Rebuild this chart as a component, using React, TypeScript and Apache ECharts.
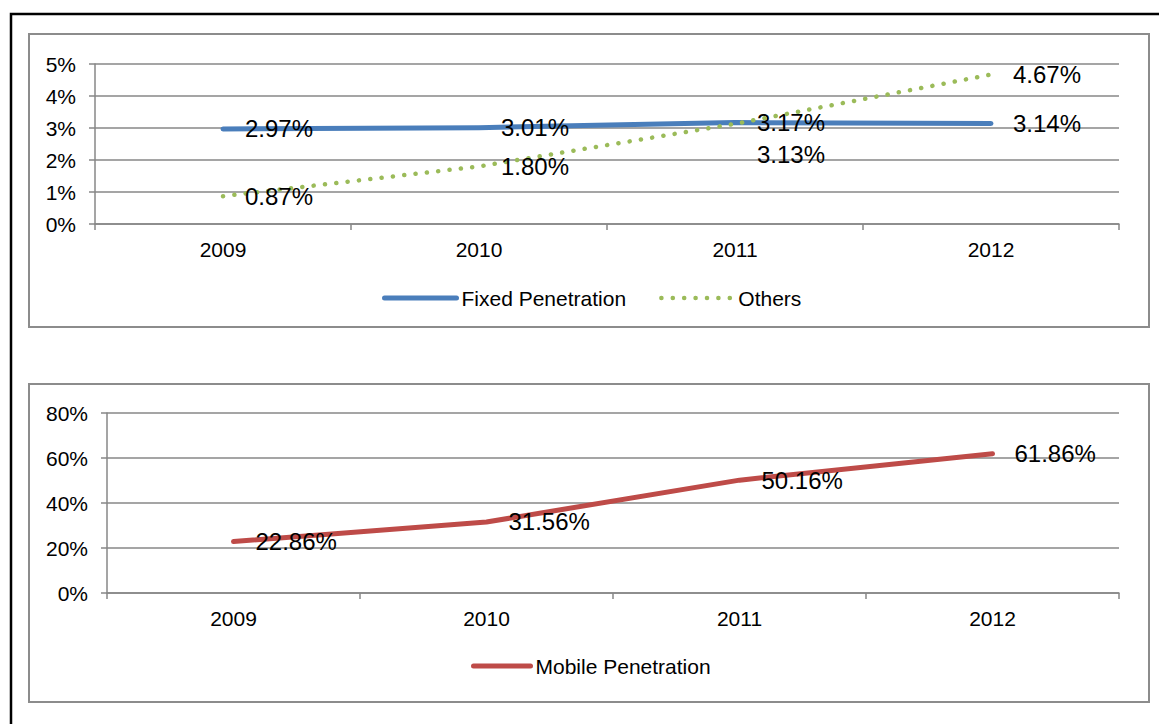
import React, { useEffect, useRef } from "react";
import * as echarts from "echarts";

const years = ["2009", "2010", "2011", "2012"];
const fixedPenetration = [2.97, 3.01, 3.17, 3.14];
const others = [0.87, 1.8, 3.13, 4.67];
const mobilePenetration = [22.86, 31.56, 50.16, 61.86];
const topTicks = [0, 5, 1];
const bottomTicks = [0, 80, 20];

const FONT = "'Liberation Sans', Arial, sans-serif";
const GRID_COLOR = "#878787";
const BLUE = "#4A7EBB";
const GREEN = "#9BBB59";
const RED = "#BE4B48";

export default function App() {
  const ref = useRef<HTMLDivElement>(null);
  useEffect(() => {
    if (!ref.current) return;
    const chart = echarts.init(ref.current, undefined, { renderer: "svg" });
    const axisLabel = { color: "#000", fontSize: 21, fontFamily: FONT };
    const dataLabel = {
      show: true,
      position: "right" as const,
      distance: 22,
      color: "#000",
      fontSize: 24,
      fontFamily: FONT,
      formatter: (p: any) => Number(p.value).toFixed(2) + "%",
    };
    const catAxis = (gridIndex: number) => ({
      type: "category" as const,
      gridIndex,
      data: years,
      boundaryGap: true,
      axisLine: { lineStyle: { color: GRID_COLOR, width: 1.5 } },
      axisTick: { show: true, length: 6, lineStyle: { color: GRID_COLOR, width: 1.5 } },
      axisLabel: { ...axisLabel, margin: 15 },
    });
    const valAxis = (gridIndex: number, t: number[]) => ({
      type: "value" as const,
      gridIndex,
      min: t[0],
      max: t[1],
      interval: t[2],
      axisLine: { show: true, lineStyle: { color: GRID_COLOR, width: 1.5 } },
      axisTick: { show: true, length: 6, lineStyle: { color: GRID_COLOR, width: 1.5 } },
      splitLine: { show: true, lineStyle: { color: GRID_COLOR, width: 1.5 } },
      axisLabel: { ...axisLabel, margin: 19, formatter: (v: number) => v + "%" },
    });
    const legendText = { color: "#000", fontSize: 21, fontFamily: FONT, lineHeight: 22 };
    const option: any = {
      animation: false,
      backgroundColor: "#fff",
      graphic: [
        {
          type: "rect",
          z: 0,
          shape: { x: 11, y: 14, width: 1300, height: 900 },
          style: { fill: "transparent", stroke: "#000", lineWidth: 2.5 },
        },
        {
          type: "rect",
          z: 0,
          shape: { x: 29, y: 34, width: 1120, height: 293 },
          style: { fill: "transparent", stroke: "#8c8c8c", lineWidth: 2 },
        },
        {
          type: "rect",
          z: 0,
          shape: { x: 29, y: 384, width: 1120, height: 318 },
          style: { fill: "transparent", stroke: "#8c8c8c", lineWidth: 2 },
        },
      ],
      grid: [
        { left: 95, top: 64, width: 1024, height: 160 },
        { left: 107, top: 413, width: 1012, height: 180 },
      ],
      xAxis: [catAxis(0), catAxis(1)],
      yAxis: [valAxis(0, topTicks), valAxis(1, bottomTicks)],
      legend: [
        {
          data: [
            {
              name: "Fixed Penetration",
              lineStyle: { width: 5, color: BLUE, cap: "round" },
            },
            {
              name: "Others",
              lineStyle: { width: 4.5, color: GREEN, type: [0.1, 11.3], cap: "round" },
            },
          ],
          left: 377,
          top: 282,
          itemWidth: 72,
          itemHeight: 22,
          itemGap: 33,
          itemStyle: { opacity: 0 },
          textStyle: legendText,
          selectedMode: false,
        },
        {
          data: [
            {
              name: "Mobile Penetration",
              lineStyle: { width: 5, color: RED, cap: "round" },
            },
          ],
          left: 466,
          top: 650,
          itemWidth: 57,
          itemHeight: 22,
          itemStyle: { opacity: 0 },
          textStyle: legendText,
          selectedMode: false,
        },
      ],
      series: [
        {
          name: "Fixed Penetration",
          type: "line",
          xAxisIndex: 0,
          yAxisIndex: 0,
          data: fixedPenetration,
          symbol: "circle",
          symbolSize: 0,
          color: BLUE,
          lineStyle: { color: BLUE, width: 5, cap: "round", join: "round" },
          label: dataLabel,
          emphasis: { disabled: true },
          z: 2,
        },
        {
          name: "Others",
          type: "line",
          xAxisIndex: 0,
          yAxisIndex: 0,
          data: others.map((v, i) =>
            i === 2 ? { value: v, label: { offset: [0, 31] } } : v
          ),
          symbol: "circle",
          symbolSize: 0,
          color: GREEN,
          lineStyle: { color: GREEN, width: 4.5, type: [0.1, 11.3], cap: "round" },
          label: dataLabel,
          emphasis: { disabled: true },
          z: 3,
        },
        {
          name: "Mobile Penetration",
          type: "line",
          xAxisIndex: 1,
          yAxisIndex: 1,
          data: mobilePenetration,
          symbol: "circle",
          symbolSize: 0,
          color: RED,
          lineStyle: { color: RED, width: 5, cap: "round", join: "round" },
          label: dataLabel,
          emphasis: { disabled: true },
        },
      ],
    };
    chart.setOption(option);
    return () => chart.dispose();
  }, []);
  return (
    <div
      ref={ref}
      style={{ position: "fixed", left: 0, top: 0, width: 1159, height: 724 }}
    />
  );
}
